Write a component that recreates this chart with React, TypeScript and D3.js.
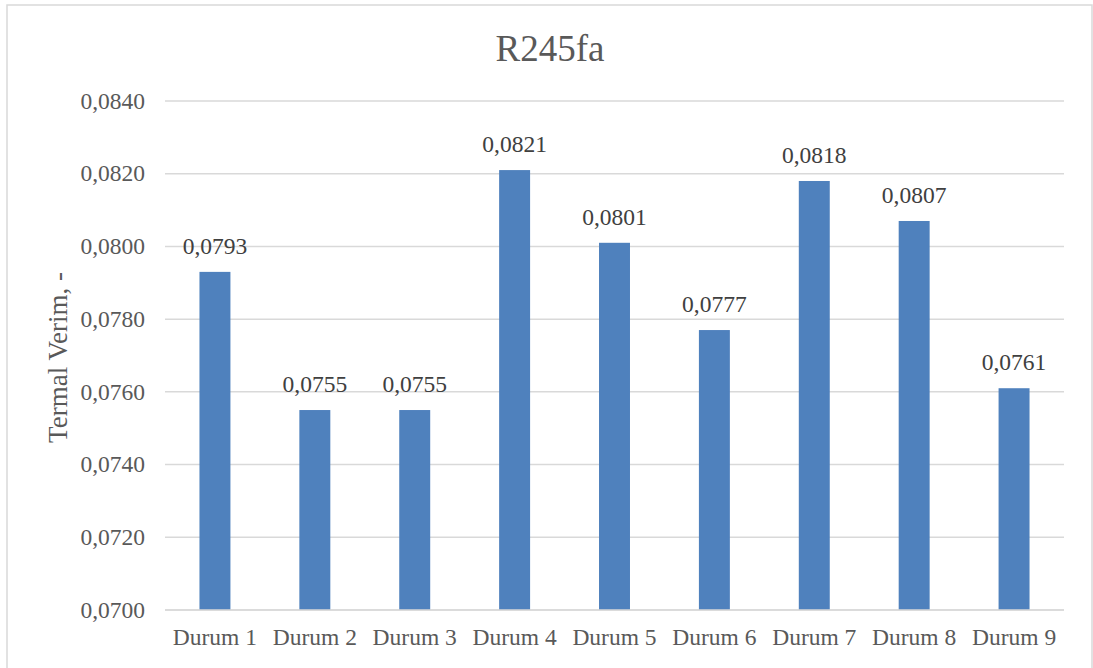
import React from "react";
import * as d3 from "d3";

const categories = ["Durum 1", "Durum 2", "Durum 3", "Durum 4", "Durum 5", "Durum 6", "Durum 7", "Durum 8", "Durum 9"];
const values = [0.0793, 0.0755, 0.0755, 0.0821, 0.0801, 0.0777, 0.0818, 0.0807, 0.0761];
const yTicks = [0.07, 0.072, 0.074, 0.076, 0.078, 0.08, 0.082, 0.084];
const title = "R245fa";
const yLabel = "Termal Verim, -";

const W = 1093;
const H = 668;
const plot = { left: 165, right: 1064, top: 101, bottom: 610 };
const fmt = (v: number) => v.toFixed(4).replace(".", ",");
const FONT = "'Liberation Serif', 'Times New Roman', serif";
const TEXT = "#595959";

export default function App() {
  const x = d3.scaleBand<string>().domain(categories).range([plot.left, plot.right]).paddingInner(0.69).paddingOuter(0.345);
  const y = d3.scaleLinear().domain([0.07, 0.084]).range([plot.bottom, plot.top]);
  return (
    <svg width={W} height={H} style={{ position: "absolute", left: 0, top: 0, background: "#fff" }} fontFamily={FONT}>
      <rect x={7} y={5} width={1085} height={H + 10} fill="#fff" stroke="#D9D9D9" strokeWidth={1.5} />
      <text x={550} y={61} textAnchor="middle" fontSize={37} fill={TEXT}>{title}</text>
      {yTicks.map((t) => (
        <g key={t}>
          <line x1={plot.left} x2={plot.right} y1={y(t)} y2={y(t)} stroke="#D9D9D9" strokeWidth={1.5} />
          <text x={145} y={y(t)} dy="0.33em" textAnchor="end" fontSize={23.5} fill={TEXT}>{fmt(t)}</text>
        </g>
      ))}
      {categories.map((c, i) => (
        <g key={c}>
          <rect x={x(c)} y={y(values[i])} width={x.bandwidth()} height={y(0.07) - y(values[i])} fill="#4F81BD" />
          <text x={(x(c) as number) + x.bandwidth() / 2} y={y(values[i]) - 18} textAnchor="middle" fontSize={23.5} fill="#404040">{fmt(values[i])}</text>
          <text x={(x(c) as number) + x.bandwidth() / 2} y={645} textAnchor="middle" fontSize={23.5} fill={TEXT}>{c}</text>
        </g>
      ))}
      <line x1={plot.left} x2={plot.right} y1={y(0.07)} y2={y(0.07)} stroke="#D9D9D9" strokeWidth={1.5} />
      <text transform={`translate(67, ${(plot.top + plot.bottom) / 2 + 2}) rotate(-90)`} textAnchor="middle" fontSize={27} fill={TEXT}>{yLabel}</text>
    </svg>
  );
}
